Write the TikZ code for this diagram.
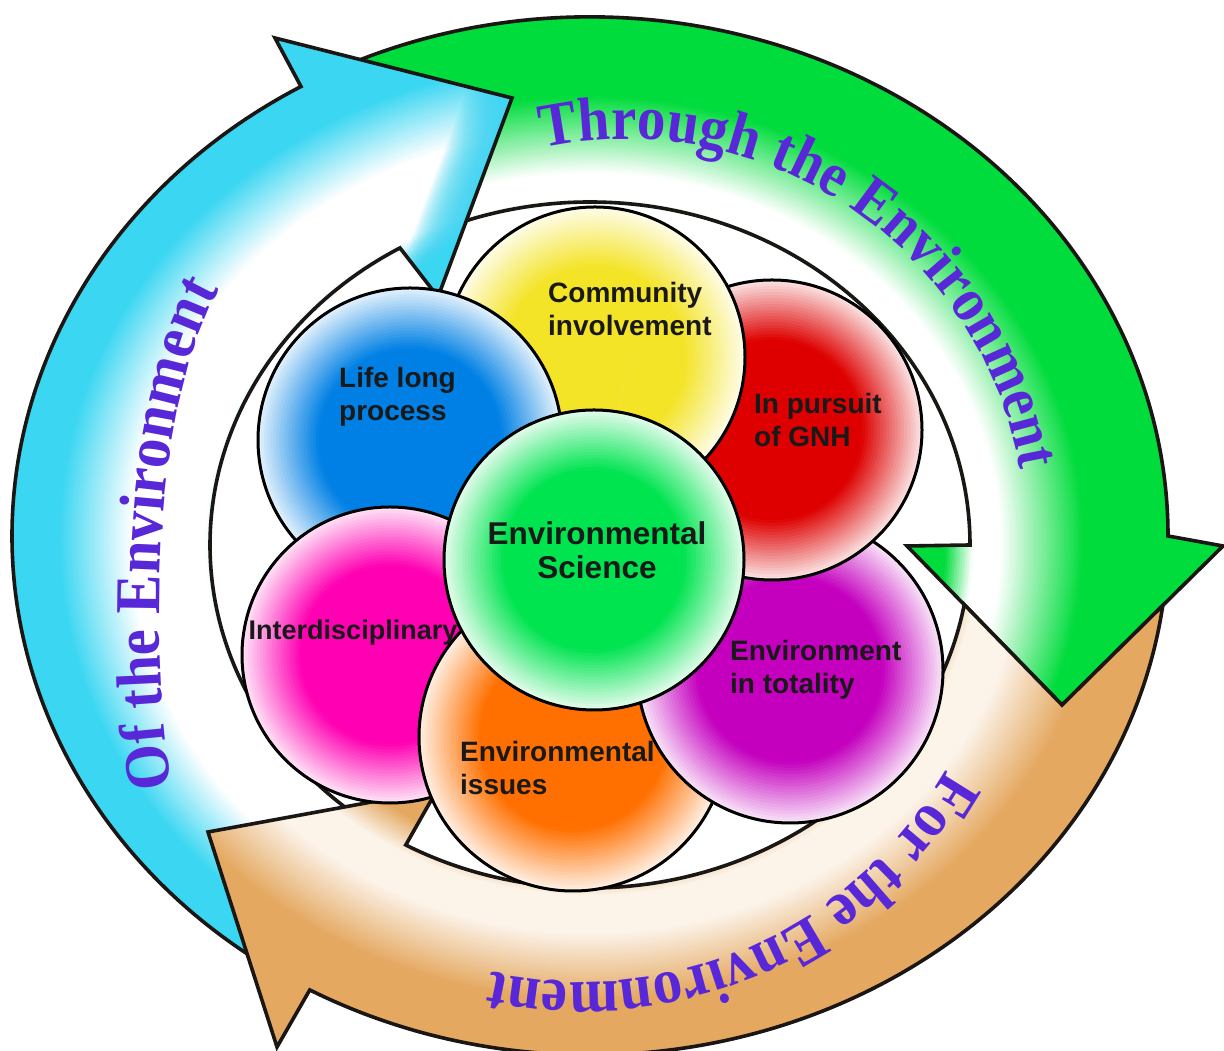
\documentclass[tikz,border=0pt]{standalone}
\usepackage{fontspec}
\setmainfont{Liberation Sans}
\newfontfamily\serifc{Liberation Serif}[FakeStretch=0.92]
\usetikzlibrary{decorations.text}

\definecolor{cyanA}{RGB}{58,214,242}
\definecolor{greenA}{RGB}{0,220,60}
\definecolor{tanA}{RGB}{228,168,96}
\definecolor{tanW}{RGB}{253,247,240}
\definecolor{txtpurple}{RGB}{88,40,216}
\definecolor{outl}{RGB}{25,22,20}
\definecolor{blueC}{RGB}{0,128,228}
\definecolor{yelC}{RGB}{244,228,40}
\definecolor{redC}{RGB}{222,0,0}
\definecolor{purC}{RGB}{196,0,190}
\definecolor{pinkC}{RGB}{255,0,178}
\definecolor{oraC}{RGB}{255,112,0}
\definecolor{grnC}{RGB}{0,228,80}

% concentric stepped gradient following the ring ellipses
\newcommand\ringfill[3]{% #1 colour, #2 light colour, #3 profile in \u
  \foreach \k in {0,...,176}{%
    \pgfmathsetmacro\u{1.6-0.0125*\k}%
    \pgfmathsetmacro\p{max(0,min(100,#3))}%
    \pgfmathsetmacro\rx{380+198*\u}\pgfmathsetmacro\ry{343+176*\u}\pgfmathsetmacro\cy{506+9*\u}%
    \fill[#1!\p!#2] (590,\cy) ellipse [x radius=\rx pt, y radius=\ry pt];
  }}
\newcommand\cyanprof{(\u<-0.15)?100:((\u<0.03)?(100-100*(\u+0.15)/0.18):((\u<0.40)?0:((\u<0.77)?(100*(\u-0.40)/0.37):100)))}
\newcommand\greenprof{(\u<-0.12)?100:((\u<0.02)?(100-100*(\u+0.12)/0.14):((\u<0.16)?0:((\u<0.58)?(100*(\u-0.16)/0.42):100)))}
\newcommand\tanprof{(\u<-0.15)?100:((\u<0.05)?(100-95*(\u+0.15)/0.2):((\u<0.28)?5:((\u<0.68)?(5+95*(\u-0.28)/0.40):100)))}

% stepped radial gradient for the circles
\newcommand\ballfill[4]{% x, y, r, colour
  \foreach \k in {0,...,20}{%
    \pgfmathsetmacro\f{1-0.02*\k}%
    \pgfmathsetmacro\p{\f>0.61 ? 12+88*(1-\f)/0.39 : 100}%
    \pgfmathsetmacro\rr{\f*#3}%
    \fill[#4!\p!white] (#1,#2) circle[radius=\rr pt];
  }%
  \draw[ballline] (#1,#2) circle[radius=#3pt];}

\def\greenpath{({590+578*cos(116)},{515+519*sin(116)}) arc[start angle=116, end angle=0, x radius=578pt, y radius=519pt] -- (1223,505) -- (1062,346) -- (907,505) -- (970,506) arc[start angle=0, end angle=116, x radius=380pt, y radius=343pt] -- cycle}
\def\cyanpath{({590+578*cos(235)},{515+519*sin(235)}) arc[start angle=235, end angle=120, x radius=578pt, y radius=519pt] -- (275,1013) -- (512,953) -- (438,754) -- ({590+380*cos(120)},{506+343*sin(120)}) arc[start angle=120, end angle=235, x radius=380pt, y radius=343pt] -- cycle}
% tan tail is cut along the two lower edges of the green head
\def\tanpath{({590+578*cos(-7.7)},{515+519*sin(-7.7)}) arc[start angle=-7.7, end angle=-119, x radius=578pt, y radius=519pt] -- (277,4) -- (208,219) -- (437,261) -- ({590+380*cos(-119)},{506+343*sin(-119)}) arc[start angle=-119, end angle=-10, x radius=380pt, y radius=343pt] -- (1062,346) -- cycle}

\tikzset{
  arrowline/.style={draw=outl, line width=3.6pt, line join=miter},
  ballline/.style={draw=black, line width=3pt},
  lbl/.style={font=\fontsize{28pt}{33pt}\selectfont\bfseries, text=black!90, inner sep=0pt, align=left}
}

\begin{document}
\begin{tikzpicture}[x=1pt,y=1pt]
\useasboundingbox (0,0) rectangle (1224,1051);
\fill[white] (0,0) rectangle (1224,1051);
\clip (0,0) rectangle (1224,1051);

% green arrow
\begin{scope}\clip \greenpath; \ringfill{greenA}{white}{\greenprof} \end{scope}
\draw[arrowline] \greenpath;
% cyan arrow, with a cyan glow along the right edge of its head
\begin{scope}\clip \cyanpath; \ringfill{cyanA}{white}{\cyanprof}
  \foreach \k in {0,...,30}{%
    \pgfmathsetmacro\d{45-1.5*\k}%
    \fill[cyanA, fill opacity=0.08] (610,1130.2) -- (396.4,555.8) -- ({368.2-0.9387*\d},{566.3+0.349*\d}) -- ({581.8-0.9387*\d},{1140.7+0.349*\d}) -- cycle;
  }
\end{scope}
\draw[arrowline] \cyanpath;
% tan arrow
\begin{scope}\clip \tanpath; \ringfill{tanA}{tanW}{\tanprof} \end{scope}
\draw[arrowline] \tanpath;

% texts along the arrows
\path[decorate, decoration={text along path, text color=txtpurple, text align=center,
  text={|\serifc\bfseries\fontsize{62pt}{62pt}\selectfont|Through the Environment}}]
  ({626+400*cos(108)},{512+400*sin(108)}) arc[start angle=108, end angle=4, radius=400pt];
\path[decorate, decoration={text along path, text color=txtpurple, text align=left,
  text={|\serifc\bfseries\fontsize{64pt}{64pt}\selectfont|Of the Environment}}]
  (172,264) .. controls (150,400) and (150,650) .. (225,771) -- (262,830);
\path[decorate, decoration={text along path, text color=txtpurple, text align=center,
  text={|\serifc\bfseries\fontsize{64pt}{64pt}\selectfont|For the Environment}}]
  ({582+418*cos(-17)},{487+418*sin(-17)}) arc[start angle=-17, end angle=-115, radius=418pt];

% circles
\ballfill{595}{694}{150}{yelC}
\ballfill{410}{611}{152}{blueC}
\ballfill{390}{396}{148}{pinkC}
\ballfill{573}{314}{154}{oraC}
\ballfill{790}{381}{153}{purC}
\ballfill{772}{621}{150}{redC}
\begin{scope}\clip (772,621) circle[radius=154pt];
\ballfill{595}{694}{150}{yelC}
\end{scope}
\ballfill{594}{491}{150}{grnC}

% labels
\node[lbl, anchor=west] (life) at (339,654) {Life long\\process};
\node[lbl, anchor=west] (comm) at (548,742) {Community\\involvement};
\node[lbl, anchor=west] (gnh) at (754,631) {In pursuit\\of GNH};
\node[lbl, align=center, font=\fontsize{31.5pt}{34pt}\selectfont\bfseries] (sci) at (597,501) {Environmental\\Science};
\node[lbl, font=\fontsize{27pt}{32pt}\selectfont\bfseries] (inter) at (353,418) {Interdisciplinary};
\node[lbl, anchor=west] (tot) at (730,381) {Environment\\in totality};
\node[lbl, anchor=west] (iss) at (460,283) {Environmental\\issues};
\end{tikzpicture}
\end{document}
